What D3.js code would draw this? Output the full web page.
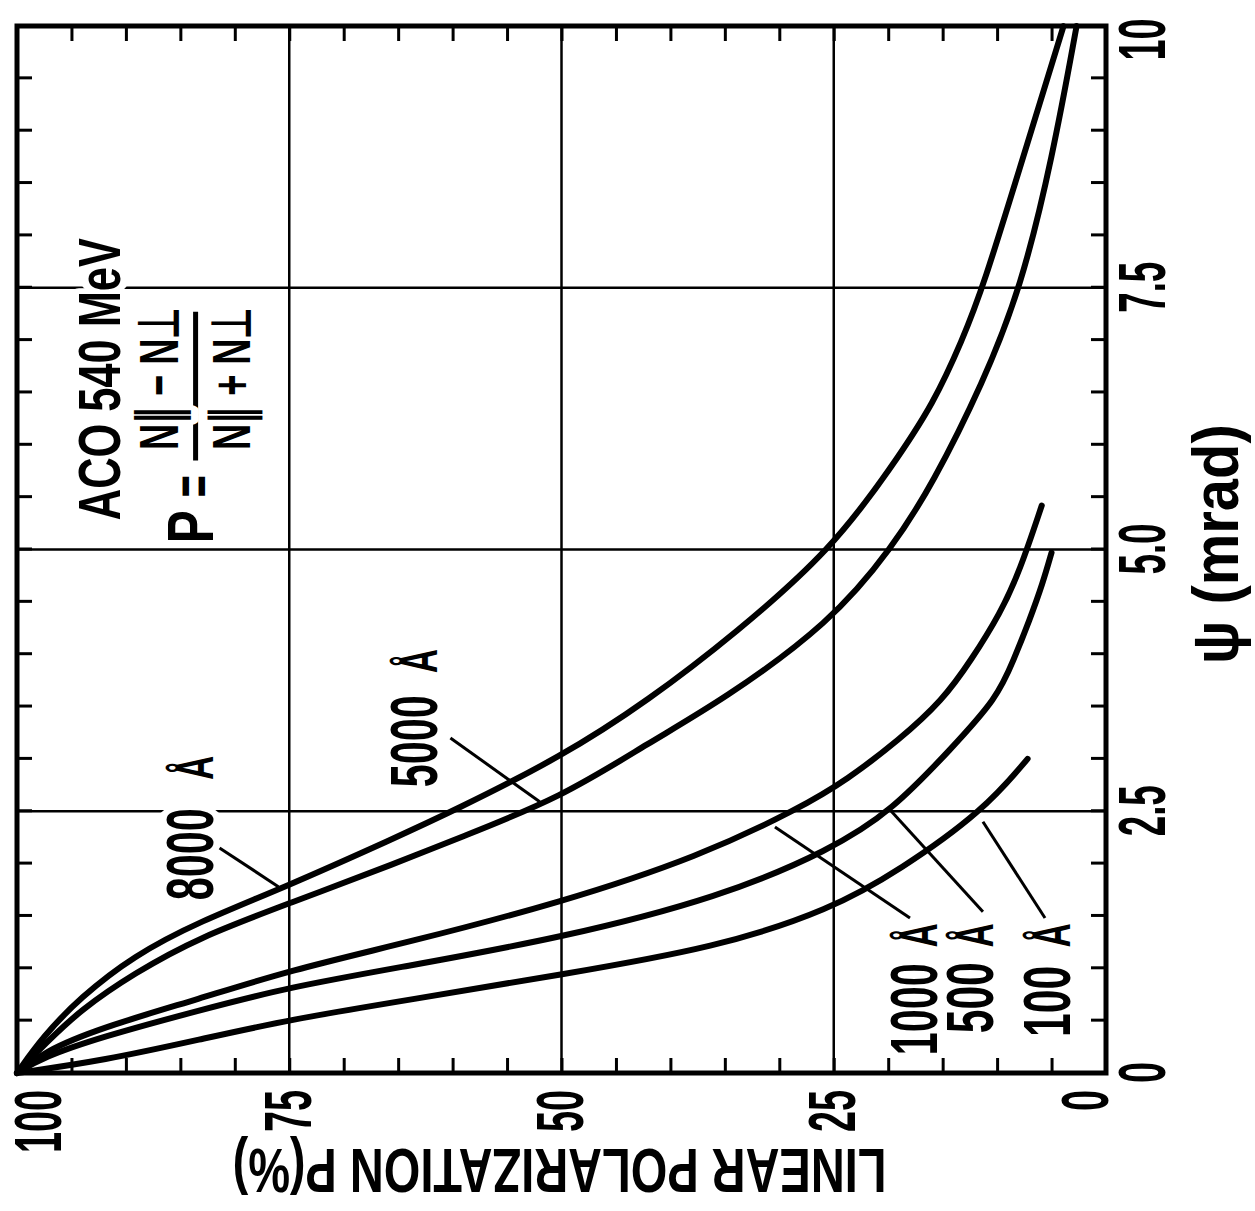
<!DOCTYPE html>
<html><head><meta charset="utf-8">
<script src="https://cdn.jsdelivr.net/npm/d3@7"></script>
<style>body{margin:0;background:#fff} svg{display:block}</style>
</head><body>
<svg id="chart" width="1255" height="1211"></svg>
<script>
// ---- data (psi in mrad, P in %) ----
const psiTicks = [0, 2.5, 5, 7.5, 10];
const psiTickLabels = ["0", "2.5", "5.0", "7.5", "10"];
const pTicks = [0, 25, 50, 75, 100];
const pTickLabels = ["0", "25", "50", "75", "100"];
const seriesNames = ["8000", "5000", "1000", "500", "100"];

const psi8000 = [0, 0.35, 0.72, 1.12, 1.45, 1.77, 2.25, 2.5, 3.02, 3.56, 4.2, 5.0, 5.8, 6.4, 7.0, 7.5, 8.75, 10];
const p8000   = [100, 97.6, 94.2, 89.3, 83.2, 75.5, 65.2, 60, 50, 42, 34, 25.2, 19.6, 15.8, 13.2, 11.3, 7.6, 3.9];
const psi5000 = [0, 0.28, 0.6, 0.95, 1.3, 1.62, 2.02, 2.23, 2.63, 3.16, 3.56, 4.3, 5.02, 5.63, 6.59, 7.5, 8.75, 10];
const p5000   = [100, 97.4, 94.2, 89.3, 83.2, 75, 64.8, 59.8, 50, 41.9, 35.2, 25.3, 19.6, 15.9, 11.3, 7.8, 4.9, 2.7];
const psi1000 = [0, 0.2, 0.43, 0.71, 0.98, 1.25, 1.63, 2.07, 2.53, 2.8, 3.18, 3.56, 3.94, 4.39, 4.8, 5.42];
const p1000   = [100, 97.6, 92.4, 83.2, 75, 64, 50, 37.3, 28.1, 23.8, 19, 15, 12.4, 9.7, 7.9, 5.9];
const psi500  = [0, 0.15, 0.34, 0.6, 0.82, 1.01, 1.29, 1.68, 2.13, 2.51, 3.1, 3.58, 3.94, 4.33, 4.68, 4.97];
const p500    = [100, 97.6, 92.4, 83.2, 75, 64.8, 50, 35.4, 25.3, 19.6, 14.2, 10.0, 8.5, 7.0, 5.8, 5.0];
const psi100  = [0, 0.12, 0.32, 0.51, 0.7, 0.94, 1.2, 1.56, 1.94, 2.5, 3.0];
const p100    = [100, 92, 83.2, 75, 64, 50, 35.7, 25.3, 18.9, 11.3, 7.2];

// annotation anchors (data units)
const labelPsi = [1.65, 2.73, 0.17, 0.38, 0.345];
const labelP   = [82.0, 61.4, 15.5, 10.4, 3.3];
const angstromPsi = [2.80, 3.82, 1.20, 1.20, 1.20];
const leaderFrom = [[2.15, 81.4], [3.2, 60.2], [2.35, 30.4], [2.51, 19.8], [2.40, 11.3]];
const leaderTo   = [[1.78, 76.0], [2.59, 52.0], [1.48, 18.0], [1.54, 11.3], [1.48, 5.6]];

const titleText = "ACO 540 MeV";
const yTitle = "LINEAR POLARIZATION P(%)";
const xTitle = "\u03C8 (mrad)";

// ---- drawing ----
const FONT = "'Liberation Sans', Arial, sans-serif";
const svg = d3.select("#chart");
svg.append("rect").attr("width", 1255).attr("height", 1211).attr("fill", "#fff");
// whole chart drawn in its own frame and turned a quarter turn counter-clockwise
const g = svg.append("g").attr("transform", "translate(0,1211) rotate(-90)");

const x = d3.scaleLinear().domain([0, 10]).range([138, 1185]);
const y = d3.scaleLinear().domain([0, 100]).range([1106, 17]);

// grid
g.append("g").selectAll("line").data([2.5, 5, 7.5]).join("line")
  .attr("x1", d => x(d)).attr("x2", d => x(d)).attr("y1", y(100)).attr("y2", y(0))
  .attr("stroke", "#000").attr("stroke-width", 2.5);
g.append("g").selectAll("line").data([25, 50, 75]).join("line")
  .attr("y1", d => y(d)).attr("y2", d => y(d)).attr("x1", x(0)).attr("x2", x(10))
  .attr("stroke", "#000").attr("stroke-width", 2.5);

// minor inward ticks
function minor(axis, tr) {
  const a = g.append("g").attr("transform", tr).call(axis);
  a.select(".domain").remove();
  a.selectAll("line").attr("stroke", "#000").attr("stroke-width", 3);
  a.selectAll("text").remove();
}
const psiMinor = d3.range(0.5, 10, 0.5);
const pMinor = d3.range(5, 100, 5);
minor(d3.axisBottom(x).tickValues(psiMinor).tickSize(-15), `translate(0,${y(0)})`);
minor(d3.axisTop(x).tickValues(psiMinor).tickSize(-15), `translate(0,${y(100)})`);
minor(d3.axisLeft(y).tickValues(pMinor).tickSize(-15), `translate(${x(0)},0)`);
minor(d3.axisRight(y).tickValues(pMinor).tickSize(-15), `translate(${x(10)},0)`);

// frame
g.append("rect").attr("x", x(0)).attr("y", y(100)).attr("width", x(10) - x(0)).attr("height", y(0) - y(100))
  .attr("fill", "none").attr("stroke", "#000").attr("stroke-width", 5);

const lenOf = s => Array.from(s).reduce((a, c) => a + (c === "." ? 9 : 21), 0);

// P tick labels
const pAx = g.append("g").attr("transform", `translate(${x(0)},0)`)
  .call(d3.axisLeft(y).tickValues(pTicks).tickFormat((d, i) => pTickLabels[i]).tickSize(0).tickPadding(17));
pAx.select(".domain").remove();
pAx.selectAll("text").attr("font-family", FONT).attr("font-weight", "bold").attr("font-size", 66).attr("fill", "#000")
  .attr("textLength", function () { return lenOf(this.textContent); }).attr("lengthAdjust", "spacingAndGlyphs")
  .attr("dy", d => d === 100 ? 43 : (d === 0 ? 1 : 21));

// psi tick labels
const xAx = g.append("g").attr("transform", `translate(0,${y(0)})`)
  .call(d3.axisBottom(x).tickValues(psiTicks).tickFormat((d, i) => psiTickLabels[i]).tickSize(0).tickPadding(12));
xAx.select(".domain").remove();
xAx.selectAll("text").attr("font-family", FONT).attr("font-weight", "bold").attr("font-size", 66).attr("fill", "#000")
  .attr("textLength", function () { return lenOf(this.textContent); }).attr("lengthAdjust", "spacingAndGlyphs")
  .attr("x", d => d === 10 ? -14 : 0);

// axis titles
g.append("text").attr("transform", `translate(62,${y(50) - 2}) rotate(-90)`)
  .attr("text-anchor", "middle").attr("font-family", FONT).attr("font-weight", "bold").attr("font-size", 63)
  .attr("textLength", 654).attr("lengthAdjust", "spacingAndGlyphs").text(yTitle);
g.append("text").attr("x", x(5.05)).attr("y", 1238)
  .attr("text-anchor", "middle").attr("font-family", FONT).attr("font-weight", "bold").attr("font-size", 64)
  .attr("textLength", 240).attr("lengthAdjust", "spacingAndGlyphs").text(xTitle);

// curves
const series = [[psi8000, p8000], [psi5000, p5000], [psi1000, p1000], [psi500, p500], [psi100, p100]];
const line = d3.line().x(d => x(d[0])).y(d => y(d[1])).curve(d3.curveBasis);
g.append("g").selectAll("path").data(series).join("path")
  .attr("d", s => line(s[0].map((v, i) => [v, s[1][i]])))
  .attr("fill", "none").attr("stroke", "#000").attr("stroke-width", 6)
  .attr("stroke-linecap", "round").attr("stroke-linejoin", "round");

// title + formula (with white halo that cuts the grid)
function txt(str, ux, vy, size, len) {
  return g.append("text").attr("x", ux).attr("y", vy).attr("font-family", FONT).attr("font-weight", "bold")
    .attr("font-size", size).attr("textLength", len).attr("lengthAdjust", "spacingAndGlyphs")
    .attr("stroke", "#fff").attr("stroke-width", 16).attr("stroke-linejoin", "round")
    .attr("paint-order", "stroke").attr("fill", "#000").text(str);
}
txt(titleText, x(5.28), 120, 60, 282);
txt("P", x(5.06), y(82.0), 64, 33);
txt("=", x(5.5), y(82.0), 60, 22);
g.append("line").attr("x1", x(5.85)).attr("x2", x(7.27)).attr("y1", y(83.6)).attr("y2", y(83.6))
  .attr("stroke", "#000").attr("stroke-width", 5);
txt("N\u2225 \u2212 N\u22A5", x(5.95), y(85.2), 56, 143);
txt("N\u2225 + N\u22A5", x(5.95), y(78.6), 54, 143);

// series labels
seriesNames.forEach((name, i) => {
  txt(name, x(labelPsi[i]), y(labelP[i]), 66, lenOf(name) + 8);
  txt("\u00C5", x(angstromPsi[i]), y(labelP[i]), 54, 24);
});

// leaders
g.append("g").selectAll("line").data(leaderFrom).join("line")
  .attr("x1", d => x(d[0])).attr("y1", d => y(d[1]))
  .attr("x2", (d, i) => x(leaderTo[i][0])).attr("y2", (d, i) => y(leaderTo[i][1]))
  .attr("stroke", "#000").attr("stroke-width", 3);
</script>
</body></html>
